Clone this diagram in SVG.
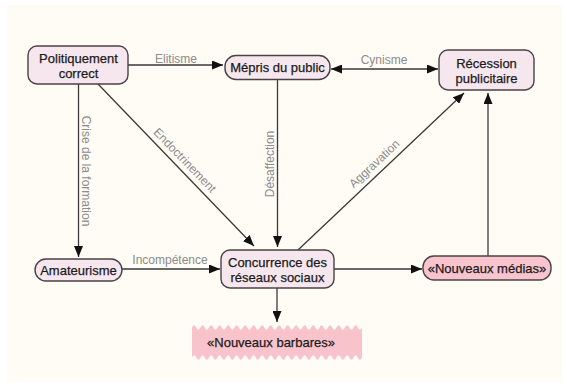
<svg xmlns="http://www.w3.org/2000/svg" width="565" height="384" viewBox="0 0 565 384">
<style>
.node{fill:#f6e7ef;stroke:#4a4245;stroke-width:1.4}
.hot{fill:#f8c4cd;stroke:#4a4245;stroke-width:1.4}
.t{font-family:"Liberation Sans",Arial,sans-serif;font-size:13px;fill:#1c1a1b;stroke:#1c1a1b;stroke-width:0.25;text-anchor:middle}
.lbl{font-family:"Liberation Sans",Arial,sans-serif;font-size:12px;fill:#8d8b8b;text-anchor:middle}
.e{fill:none;stroke:#3a3a3a;stroke-width:1.3}
</style>
<defs>
<marker id="ah" markerUnits="userSpaceOnUse" markerWidth="11" markerHeight="9" viewBox="0 0 11 9" refX="11" refY="4.5" orient="auto-start-reverse">
<path d="M0,0 L11,4.5 L0,9 Z" fill="#111"/>
</marker>
</defs>
<rect x="0" y="0" width="565" height="384" fill="#ffffff"/>
<rect x="7" y="5" width="555" height="377" fill="#fefcf5"/>

<g id="connectors">
<line class="e" x1="128" y1="65" x2="223" y2="65" marker-end="url(#ah)"/>
<line class="e" x1="331" y1="69" x2="438" y2="69" marker-start="url(#ah)" marker-end="url(#ah)"/>
<line class="e" x1="78.5" y1="84" x2="78.5" y2="257" marker-end="url(#ah)"/>
<line class="e" x1="98" y1="84" x2="254" y2="246" marker-end="url(#ah)"/>
<line class="e" x1="277.5" y1="79" x2="277.5" y2="247" marker-end="url(#ah)"/>
<line class="e" x1="298" y1="250" x2="464" y2="93" marker-end="url(#ah)"/>
<line class="e" x1="122" y1="269" x2="220" y2="269" marker-end="url(#ah)"/>
<line class="e" x1="334" y1="269" x2="422" y2="269" marker-end="url(#ah)"/>
<line class="e" x1="488" y1="256" x2="488" y2="93" marker-end="url(#ah)"/>
<line class="e" x1="277" y1="288" x2="277" y2="322" marker-end="url(#ah)"/>
<text class="lbl" x="176" y="62.5">Elitisme</text>
<text class="lbl" x="384" y="64">Cynisme</text>
<text class="lbl" x="170" y="264">Incompétence</text>
<text class="lbl" transform="translate(81.5,171) rotate(90)">Crise de la formation</text>
<text class="lbl" transform="translate(273.5,164) rotate(-90)">Désaffection</text>
<text class="lbl" transform="translate(183,162) rotate(46)" y="1.5">Endoctrinement</text>
<text class="lbl" transform="translate(376,165.5) rotate(-43.2)" y="1.5">Aggravation</text>
</g>

<g id="politiquement">
<rect class="node" x="28" y="46" width="100" height="38" rx="9"/>
<text class="t" x="78.5" y="62.5">Politiquement</text>
<text class="t" x="78.5" y="78">correct</text>
</g>
<g id="mepris">
<rect class="node" x="225" y="55.5" width="105" height="24" rx="11"/>
<text class="t" x="277.5" y="72">Mépris du public</text>
</g>
<g id="recession">
<rect class="node" x="439" y="50" width="95" height="40" rx="9"/>
<text class="t" x="486.5" y="67.5">Récession</text>
<text class="t" x="486.5" y="83">publicitaire</text>
</g>
<g id="amateurisme">
<rect class="node" x="35" y="259" width="87" height="22" rx="11"/>
<text class="t" x="78.5" y="274.5">Amateurisme</text>
</g>
<g id="concurrence">
<rect class="node" x="221" y="250" width="113" height="38" rx="9"/>
<text class="t" x="277.5" y="266.5">Concurrence des</text>
<text class="t" x="277.5" y="282">réseaux sociaux</text>
</g>
<g id="medias">
<rect class="hot" x="423" y="256" width="128" height="24" rx="11"/>
<text class="t" x="487" y="272.5">«Nouveaux médias»</text>
</g>
<g id="barbares">
<path fill="#f9c3cb" d="M192,327.5 q2.125,-4.5 4.25,0 t4.25,0 t4.25,0 t4.25,0 t4.25,0 t4.25,0 t4.25,0 t4.25,0 t4.25,0 t4.25,0 t4.25,0 t4.25,0 t4.25,0 t4.25,0 t4.25,0 t4.25,0 t4.25,0 t4.25,0 t4.25,0 t4.25,0 t4.25,0 t4.25,0 t4.25,0 t4.25,0 t4.25,0 t4.25,0 t4.25,0 t4.25,0 t4.25,0 t4.25,0 t4.25,0 t4.25,0 t4.25,0 t4.25,0 t4.25,0 t4.25,0 t4.25,0 t4.25,0 t4.25,0 t4.25,0 L362,357.5 q-2.125,4.5 -4.25,0 t-4.25,0 t-4.25,0 t-4.25,0 t-4.25,0 t-4.25,0 t-4.25,0 t-4.25,0 t-4.25,0 t-4.25,0 t-4.25,0 t-4.25,0 t-4.25,0 t-4.25,0 t-4.25,0 t-4.25,0 t-4.25,0 t-4.25,0 t-4.25,0 t-4.25,0 t-4.25,0 t-4.25,0 t-4.25,0 t-4.25,0 t-4.25,0 t-4.25,0 t-4.25,0 t-4.25,0 t-4.25,0 t-4.25,0 t-4.25,0 t-4.25,0 t-4.25,0 t-4.25,0 t-4.25,0 t-4.25,0 t-4.25,0 t-4.25,0 t-4.25,0 t-4.25,0 Z"/>
<text class="t" x="271" y="346.5">«Nouveaux barbares»</text>
</g>
</svg>
